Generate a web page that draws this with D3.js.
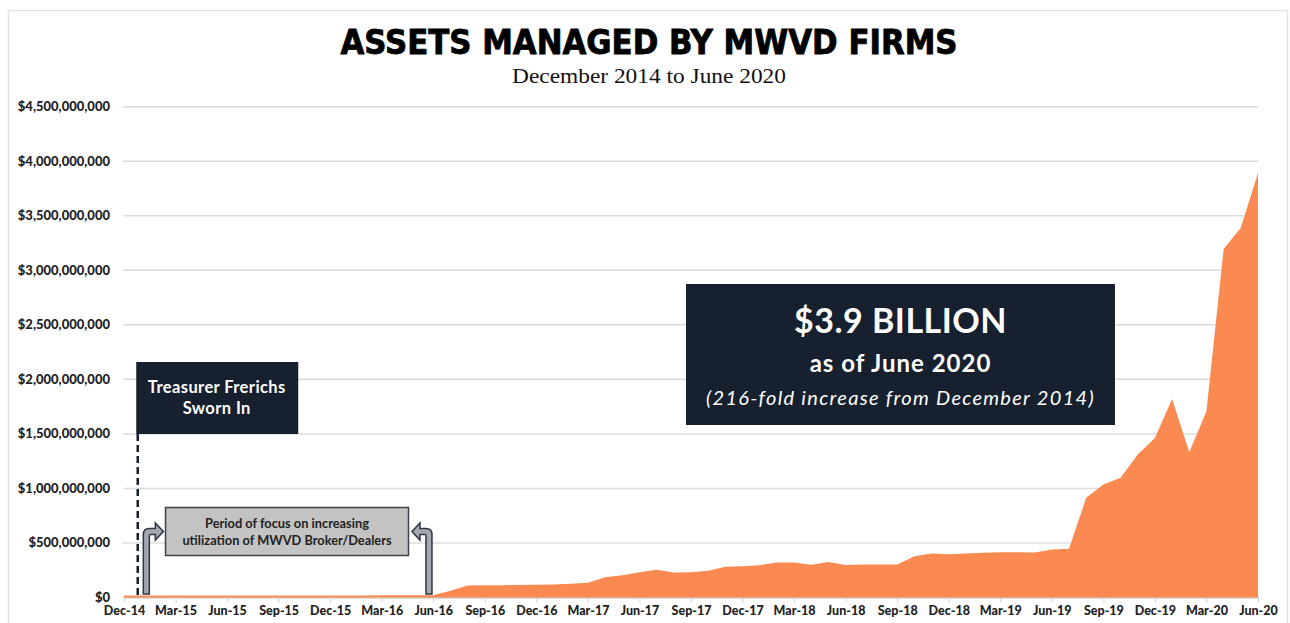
<!DOCTYPE html>
<html>
<head>
<meta charset="utf-8">
<script src="https://cdn.jsdelivr.net/npm/d3@7"></script>
<style>
  body { margin: 0; background: #fff; }
  svg { display: block; }
</style>
</head>
<body>
<svg id="chart" width="1290" height="623"></svg>
<script>
// monthly values in $ millions, Dec-14 (index 0) through Jun-20 (index 66)
var assetsMillions = [
	18, 18, 18, 18, 18, 18, 18, 18, 18, 19, 19, 19,
	19, 19, 19, 20, 20, 20, 21, 62, 110, 112, 113, 115,
	117, 120, 125, 135, 186, 205, 232, 254, 229, 232, 245, 281,
	287, 296, 321, 321, 300, 326, 298, 303, 303, 303, 379, 403,
	397, 403, 410, 416, 416, 413, 440, 446, 914, 1036, 1097, 1311,
	1463, 1821, 1332, 1708, 3196, 3389, 3893
];

var tickLabels = ['Dec-14', 'Mar-15', 'Jun-15', 'Sep-15', 'Dec-15', 'Mar-16', 'Jun-16',
	'Sep-16', 'Dec-16', 'Mar-17', 'Jun-17', 'Sep-17', 'Dec-17', 'Mar-18', 'Jun-18',
	'Sep-18', 'Dec-18', 'Mar-19', 'Jun-19', 'Sep-19', 'Dec-19', 'Mar-20', 'Jun-20'];

var yTicks = [0, 5e8, 1e9, 1.5e9, 2e9, 2.5e9, 3e9, 3.5e9, 4e9, 4.5e9];

var swornInMonth = 0.8;          // Treasurer sworn in, just after Dec-14
var focusStart = 1.3, focusEnd = 17.75;

var svg = d3.select('#chart');

// outer frame
svg.append('rect')
	.attr('x', 8.5).attr('y', 10.5)
	.attr('width', 1279).attr('height', 640)
	.attr('fill', 'none')
	.attr('stroke', '#e2e2e2')
	.attr('stroke-width', 1.5);

var x = d3.scaleLinear().domain([0, 66]).range([124, 1258]);
var y = d3.scaleLinear().domain([0, 4.5e9]).range([597.5, 106.7]);

// title
svg.append('text')
	.attr('x', 649).attr('y', 54)
	.attr('text-anchor', 'middle')
	.attr('textLength', 617)
	.attr('lengthAdjust', 'spacingAndGlyphs')
	.style('font-family', '"DejaVu Sans Condensed", "DejaVu Sans", sans-serif')
	.style('font-weight', 'bold')
	.style('font-size', '34px')
	.style('stroke', '#000')
	.style('stroke-width', '0.8px')
	.style('fill', '#000')
	.text('ASSETS MANAGED BY MWVD FIRMS');

svg.append('text')
	.attr('x', 649).attr('y', 83)
	.attr('text-anchor', 'middle')
	.attr('textLength', 274)
	.attr('lengthAdjust', 'spacingAndGlyphs')
	.style('font-family', '"Liberation Serif", serif')
	.style('font-size', '21px')
	.style('fill', '#111')
	.text('December 2014 to June 2020');

// gridlines
svg.append('g')
	.selectAll('line')
	.data(yTicks)
	.enter()
	.append('line')
		.attr('x1', 123).attr('x2', 1258)
		.attr('y1', d => y(d)).attr('y2', d => y(d))
		.attr('stroke', '#dcdcdc')
		.attr('stroke-width', 1.5);

// y labels
var fmt = d3.format('$,');
svg.append('g')
	.selectAll('text')
	.data(yTicks)
	.enter()
	.append('text')
		.attr('x', 110)
		.attr('y', d => y(d) + 4.5)
		.attr('text-anchor', 'end')
		.style('font-family', 'Lato, sans-serif')
		.style('font-weight', 900)
		.style('font-size', '13px')
		.style('fill', '#222')
		.text(d => fmt(d));

// x axis
var tickIdx = tickLabels.map((d, i) => i * 3);
var xAxis = d3.axisBottom(x)
	.tickValues(tickIdx)
	.tickSize(5)
	.tickSizeOuter(0)
	.tickFormat((d, i) => tickLabels[i]);

var gx = svg.append('g')
	.attr('transform', 'translate(0,597.5)')
	.call(xAxis);
gx.select('.domain').attr('stroke', '#d0d0d0').attr('stroke-width', 1.5);
gx.selectAll('.tick line').attr('stroke', '#d0d0d0');
gx.selectAll('.tick text')
	.attr('y', 9)
	.style('font-family', 'Lato, sans-serif')
	.style('font-weight', 900)
	.style('font-size', '12.5px')
	.style('fill', '#222');

// area
var area = d3.area()
	.x((d, i) => x(i))
	.y0(y(0))
	.y1(d => y(d * 1e6));

svg.append('path')
	.datum(assetsMillions)
	.attr('d', area)
	.attr('fill', '#fb8a52');

// Treasurer annotation
var sx = x(swornInMonth);
svg.append('line')
	.attr('x1', sx).attr('x2', sx)
	.attr('y1', 434).attr('y2', 597)
	.attr('stroke', '#16202f')
	.attr('stroke-width', 2.5)
	.attr('stroke-dasharray', '7,4');

svg.append('rect')
	.attr('x', sx - 1.5).attr('y', 362)
	.attr('width', 162).attr('height', 72)
	.attr('fill', '#16202f');

svg.append('text')
	.attr('x', sx + 79).attr('y', 393)
	.attr('text-anchor', 'middle')
	.style('font-family', 'Lato, sans-serif')
	.style('font-weight', 'bold')
	.style('font-size', '16.5px')
	.style('letter-spacing', '0.4px')
	.style('fill', '#fff')
	.selectAll('tspan')
	.data(['Treasurer Frerichs', 'Sworn In'])
	.enter()
	.append('tspan')
		.attr('x', sx + 79)
		.attr('dy', (d, i) => i ? 21 : 0)
		.text(d => d);

// period of focus box
svg.append('rect')
	.attr('x', 165.5).attr('y', 507.5)
	.attr('width', 243).attr('height', 48)
	.attr('fill', '#c3c3c3')
	.attr('stroke', '#3c424c')
	.attr('stroke-width', 1.5);

svg.append('text')
	.attr('x', 287).attr('y', 527.5)
	.attr('text-anchor', 'middle')
	.style('font-family', 'Lato, sans-serif')
	.style('font-weight', 'bold')
	.style('font-size', '12.8px')
	.style('fill', '#222')
	.selectAll('tspan')
	.data(['Period of focus on increasing', 'utilization of MWVD Broker/Dealers'])
	.enter()
	.append('tspan')
		.attr('x', 287)
		.attr('dy', (d, i) => i ? 17 : 0)
		.text(d => d);

// bent arrows pointing at the box
function bentArrow(cx, dir) {
	var w = 3, yb = 594, ya = 531.5;
	var xo = cx - dir * w, xi = cx + dir * w;
	var head = cx + dir * 9, tip = cx + dir * 17;
	return 'M' + xo + ',' + yb +
		'V' + (ya + 3) +
		'Q' + xo + ',' + (ya - 3) + ' ' + (cx + dir * 3) + ',' + (ya - 3) +
		'H' + head + 'V' + (ya - 8.5) +
		'L' + tip + ',' + ya +
		'L' + head + ',' + (ya + 8.5) +
		'V' + (ya + 3) +
		'H' + (xi + dir * 1) +
		'Q' + xi + ',' + (ya + 3) + ' ' + xi + ',' + (ya + 5) +
		'V' + yb + 'Z';
}

svg.append('path')
	.attr('d', bentArrow(x(focusStart), 1))
	.attr('fill', '#a3a7ae')
	.attr('stroke', '#2f3642')
	.attr('stroke-width', 1.5);

svg.append('path')
	.attr('d', bentArrow(x(focusEnd), -1))
	.attr('fill', '#a3a7ae')
	.attr('stroke', '#2f3642')
	.attr('stroke-width', 1.5);

// headline box
svg.append('rect')
	.attr('x', 686).attr('y', 284)
	.attr('width', 429).attr('height', 141)
	.attr('fill', '#16202f');

var hx = 900.5;
svg.append('text')
	.attr('x', hx).attr('y', 333)
	.attr('text-anchor', 'middle')
	.style('font-family', 'Lato, sans-serif')
	.style('font-weight', 'bold')
	.style('font-size', '34px')
	.style('letter-spacing', '0.5px')
	.style('fill', '#fff')
	.text('$3.9 BILLION');

svg.append('text')
	.attr('x', hx).attr('y', 372)
	.attr('text-anchor', 'middle')
	.style('font-family', 'Lato, sans-serif')
	.style('font-weight', 'bold')
	.style('font-size', '24px')
	.style('letter-spacing', '1px')
	.style('fill', '#fff')
	.text('as of June 2020');

svg.append('text')
	.attr('x', hx).attr('y', 405)
	.attr('text-anchor', 'middle')
	.style('font-family', 'Lato, sans-serif')
	.style('font-style', 'italic')
	.style('font-size', '20px')
	.style('letter-spacing', '1.3px')
	.style('fill', '#fff')
	.text('(216-fold increase from December 2014)');
</script>
</body>
</html>
